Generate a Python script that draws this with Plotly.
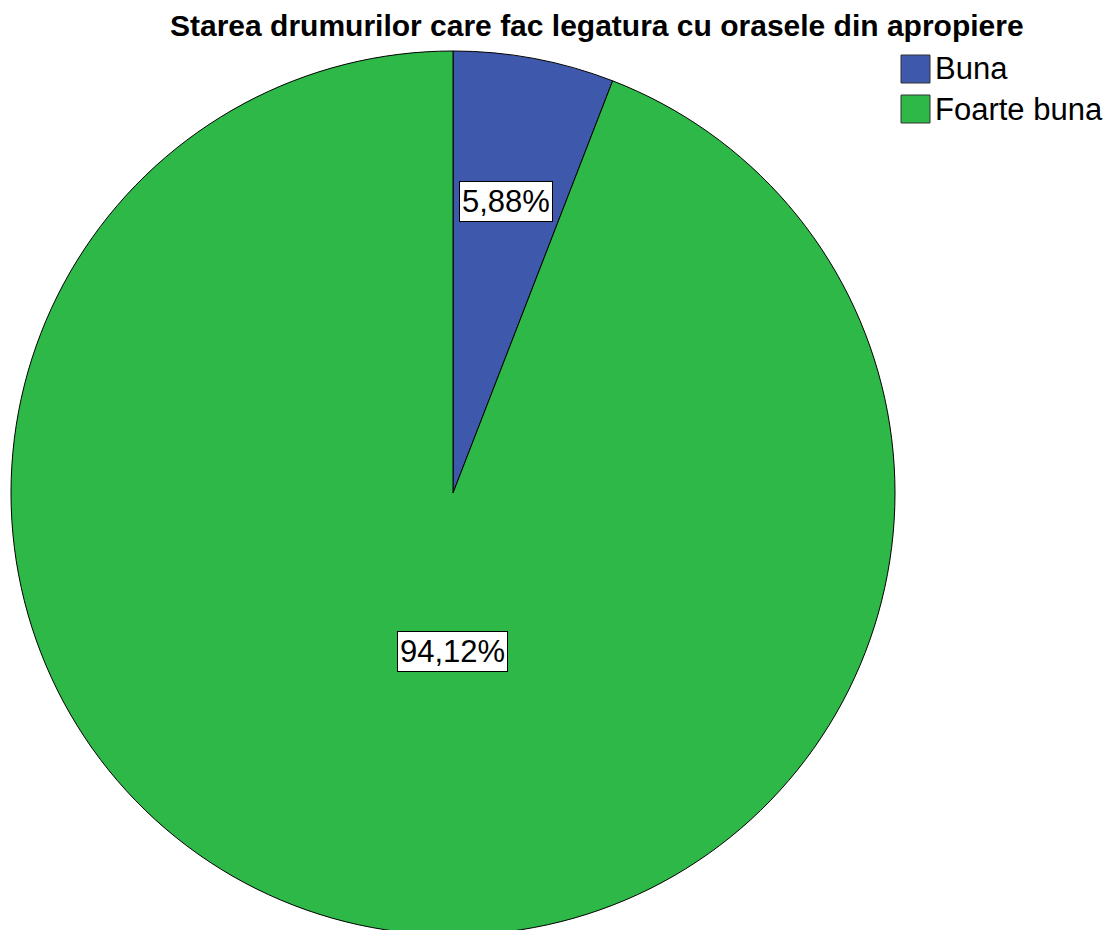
import plotly.graph_objects as go

# Data
categories = ["Buna", "Foarte buna"]
counts = [1, 16]
pct_labels = ["5,88%", "94,12%"]
colors = ["#3E58AC", "#2EB848"]
title_text = "Starea drumurilor care fac legatura cu orasele din apropiere"

W, H = 1115, 930
FONT = "Liberation Sans, Arial, sans-serif"
OFF = 8  # page body margin

def px(x):
    return (x - OFF) / W

def py(y):
    return 1 - (y - OFF) / H

fig = go.Figure(go.Pie(
    labels=categories,
    values=counts,
    sort=False,
    direction="clockwise",
    rotation=0,
    marker=dict(colors=colors, line=dict(color="black", width=1)),
    textinfo="none",
    hoverinfo="label+percent",
    showlegend=False,
    domain=dict(x=[px(11), px(895)], y=[py(935), py(51)]),
))

# percentage labels (boxed)
label_pos = [(506, 201), (452, 651)]
annotations = []
for txt, (lx, ly) in zip(pct_labels, label_pos):
    annotations.append(dict(
        text=txt, x=px(lx), y=py(ly), xref="paper", yref="paper",
        showarrow=False, xanchor="center", yanchor="middle",
        font=dict(family=FONT, size=31, color="black"),
        bgcolor="white", bordercolor="black", borderwidth=1, borderpad=2,
    ))

# custom legend
shapes = []
leg_y = [69, 109]
for cat, col, cy in zip(categories, colors, leg_y):
    shapes.append(dict(
        type="rect", xref="paper", yref="paper",
        x0=px(901), x1=px(930), y0=py(cy + 14), y1=py(cy - 14),
        fillcolor=col, line=dict(color="#333333", width=1),
    ))
    annotations.append(dict(
        text=cat, x=px(933), y=py(cy), xref="paper", yref="paper",
        showarrow=False, xanchor="left", yanchor="middle",
        font=dict(family=FONT, size=31, color="black"),
    ))

# title
annotations.append(dict(
    text="<b>" + title_text + "</b>", x=px(597), y=py(25),
    xref="paper", yref="paper", showarrow=False,
    xanchor="center", yanchor="middle",
    font=dict(family=FONT, size=30, color="black"),
))

fig.update_layout(
    width=W, height=H,
    margin=dict(l=0, r=0, t=0, b=0),
    paper_bgcolor="white", plot_bgcolor="white",
    annotations=annotations, shapes=shapes,
)

fig.write_html("out.html")
